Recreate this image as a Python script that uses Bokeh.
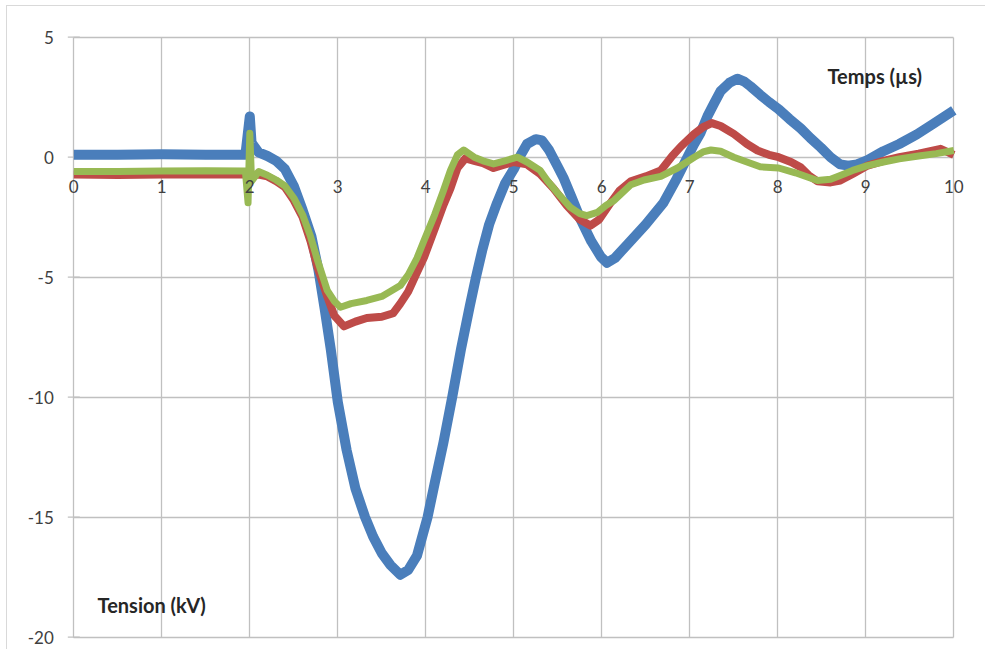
from bokeh.plotting import figure
from bokeh.models import Range1d, FixedTicker, Label, Grid
from bokeh.embed import file_html
from bokeh.resources import INLINE
from bokeh.core.properties import value

# ---- data ----
x_ticks = [0, 1, 2, 3, 4, 5, 6, 7, 8, 9, 10]
x_tick_labels = ["0", "1", "2", "3", "4", "5", "6", "7", "8", "9", "10"]
y_ticks = [-20, -15, -10, -5, 0, 5]
y_tick_labels = ["-20", "-15", "-10", "-5", "0", "5"]

blue_t = [0.0, 0.5, 1.0, 1.5, 1.95, 2.0, 2.02, 2.1, 2.2, 2.3, 2.4, 2.5, 2.6, 2.7, 2.78,
          2.85, 2.92, 3.0, 3.1, 3.2, 3.31, 3.4, 3.5, 3.6, 3.71, 3.8, 3.9, 4.02, 4.1,
          4.2, 4.3, 4.4, 4.5, 4.57, 4.64, 4.72, 4.81, 4.9, 5.0, 5.08, 5.15, 5.25, 5.32,
          5.4, 5.5, 5.57, 5.66, 5.76, 5.88, 5.99, 6.06, 6.15, 6.3, 6.5, 6.7, 6.85, 7.0,
          7.05, 7.12, 7.2, 7.27, 7.35, 7.45, 7.54, 7.62, 7.69, 7.8, 7.9, 8.01, 8.13,
          8.26, 8.37, 8.49, 8.6, 8.71, 8.8, 8.9, 9.02, 9.2, 9.38, 9.58, 9.77, 10.0]
blue_v = [0.1, 0.1, 0.12, 0.1, 0.1, 1.7, 0.6, 0.2, 0.05, -0.15, -0.5, -1.2, -2.2, -3.3, -4.7,
          -6.3, -8.0, -10.2, -12.2, -13.8, -15.0, -15.8, -16.5, -17.0, -17.4, -17.2, -16.6, -15.0, -13.6,
          -11.9, -10.0, -8.0, -6.2, -5.0, -3.9, -2.8, -1.9, -1.1, -0.5, 0.1, 0.55, 0.75, 0.7,
          0.3, -0.4, -0.9, -1.7, -2.6, -3.5, -4.15, -4.4, -4.2, -3.6, -2.8, -1.9, -0.9, 0.2,
          0.55, 1.0, 1.7, 2.2, 2.75, 3.1, 3.27, 3.15, 2.95, 2.6, 2.3, 2.0, 1.6,
          1.2, 0.8, 0.4, 0.0, -0.3, -0.35, -0.3, -0.12, 0.25, 0.55, 0.95, 1.4, 1.95]

red_t = [0.0, 0.5, 1.0, 1.5, 1.95, 2.0, 2.1, 2.2, 2.3, 2.4, 2.5, 2.6, 2.69, 2.77, 2.88,
         2.96, 3.07, 3.2, 3.33, 3.5, 3.63, 3.71, 3.8, 3.9, 3.98, 4.1, 4.2, 4.28, 4.36,
         4.45, 4.55, 4.65, 4.77, 4.9, 5.0, 5.15, 5.3, 5.45, 5.6, 5.75, 5.87, 5.97, 6.1,
         6.2, 6.33, 6.5, 6.67, 6.8, 6.9, 7.05, 7.15, 7.25, 7.35, 7.5, 7.65, 7.77, 7.9,
         8.01, 8.15, 8.26, 8.35, 8.45, 8.6, 8.71, 8.85, 9.02, 9.2, 9.38, 9.6, 9.85, 10.0]
red_v = [-0.72, -0.74, -0.72, -0.72, -0.72, -0.75, -0.72, -0.8, -1.0, -1.25, -1.8, -2.5, -3.5, -4.6, -5.8,
         -6.6, -7.05, -6.85, -6.7, -6.65, -6.5, -6.1, -5.6, -4.8, -4.17, -3.0, -2.0, -1.3, -0.45,
         -0.05, -0.15, -0.25, -0.45, -0.3, -0.2, -0.3, -0.7, -1.3, -2.0, -2.6, -2.85, -2.6, -1.9,
         -1.4, -1.0, -0.8, -0.55, 0.05, 0.45, 0.97, 1.25, 1.42, 1.3, 0.97, 0.55, 0.28, 0.1,
         0.0, -0.2, -0.42, -0.75, -1.0, -1.05, -0.97, -0.7, -0.35, -0.15, 0.0, 0.15, 0.35, 0.1]

green_t = [0.0, 0.5, 1.0, 1.5, 1.95, 1.98, 2.0, 2.02, 2.1, 2.2, 2.3, 2.4, 2.5, 2.6, 2.69,
           2.77, 2.88, 2.96, 3.03, 3.15, 3.33, 3.5, 3.71, 3.8, 3.9, 3.98, 4.1, 4.2, 4.28,
           4.36, 4.43, 4.55, 4.65, 4.77, 4.9, 5.04, 5.15, 5.3, 5.38, 5.5, 5.64, 5.75, 5.83,
           5.95, 6.05, 6.14, 6.33, 6.48, 6.67, 6.86, 7.05, 7.15, 7.24, 7.35, 7.5, 7.65, 7.8,
           8.01, 8.2, 8.45, 8.6, 8.71, 8.85, 9.02, 9.2, 9.38, 9.6, 9.8, 10.0]
green_v = [-0.6, -0.6, -0.58, -0.56, -0.58, -1.9, 1.0, -1.0, -0.6, -0.75, -0.95, -1.2, -1.7, -2.4, -3.3,
           -4.3, -5.55, -6.0, -6.25, -6.1, -5.97, -5.8, -5.35, -4.9, -4.2, -3.47, -2.4, -1.4, -0.55,
           0.1, 0.3, 0.0, -0.15, -0.28, -0.15, 0.0, -0.2, -0.55, -0.97, -1.5, -2.08, -2.35, -2.43,
           -2.3, -2.0, -1.8, -1.15, -0.95, -0.8, -0.45, 0.0, 0.22, 0.3, 0.25, 0.0, -0.2, -0.4,
           -0.45, -0.65, -0.97, -0.92, -0.76, -0.55, -0.35, -0.2, -0.07, 0.05, 0.15, 0.28]

grid_color = "#c0c0c0"
label_color = "#404040"
font = "Lato"

# The frame covers the whole chart area; the plot region (0..10, -20..5) sits inside it
# at 88 px per µs and 24 px per kV, like the reference.
p = figure(width=979, height=644,
           x_range=Range1d(-0.7534, 10.3716), y_range=Range1d(-20.554, 6.279),
           x_axis_location=None, y_axis_location=None,
           output_backend="svg", toolbar_location=None,
           min_border_left=0, min_border_right=0, min_border_top=0, min_border_bottom=0)
p.styles = {"margin-left": "6px", "margin-top": "5px",
            "border-left": "1px solid #d9d9d9", "border-top": "1px solid #d9d9d9"}
p.outline_line_color = None
p.background_fill_color = "white"
p.border_fill_color = "white"
for g in p.grid:
    g.visible = False

p.add_layout(Grid(dimension=0, ticker=FixedTicker(ticks=x_ticks), cross_bounds=(-20, 5),
                  grid_line_color=grid_color, grid_line_width=1.3))
p.add_layout(Grid(dimension=1, ticker=FixedTicker(ticks=y_ticks), cross_bounds=(0, 10),
                  grid_line_color=grid_color, grid_line_width=1.3))

# small outward tick marks on the vertical axis (x = 0)
p.scatter(x=[0] * len(y_ticks), y=y_ticks, marker="dash", size=12,
          line_color=grid_color, line_width=1.3)

p.line(blue_t, blue_v, line_color="#4A7EBB", line_width=10, line_join="round")
p.line(red_t, red_v, line_color="#BE4B48", line_width=8, line_join="round")
p.line(green_t, green_v, line_color="#98B954", line_width=7, line_join="round")

# tick labels
p.text(x=x_ticks, y=[0] * len(x_ticks), text=x_tick_labels, y_offset=29,
       text_align="center", text_baseline="middle", text_font=value(font),
       text_font_size="17px", text_color=label_color)
p.text(x=[0] * len(y_ticks), y=y_ticks, text=y_tick_labels, x_offset=-20,
       text_align="right", text_baseline="middle", text_font=value(font),
       text_font_size="17px", text_color=label_color)

p.add_layout(Label(x=8.565, y=3.4, text="Temps (µs)", text_font=font, text_font_size="20px",
                   text_font_style="bold", text_color="#262626", text_baseline="middle"))
p.add_layout(Label(x=0.27, y=-18.67, text="Tension (kV)", text_font=font, text_font_size="20px",
                   text_font_style="bold", text_color="#262626", text_baseline="middle"))

open("out.html", "w").write(file_html(p, INLINE))
